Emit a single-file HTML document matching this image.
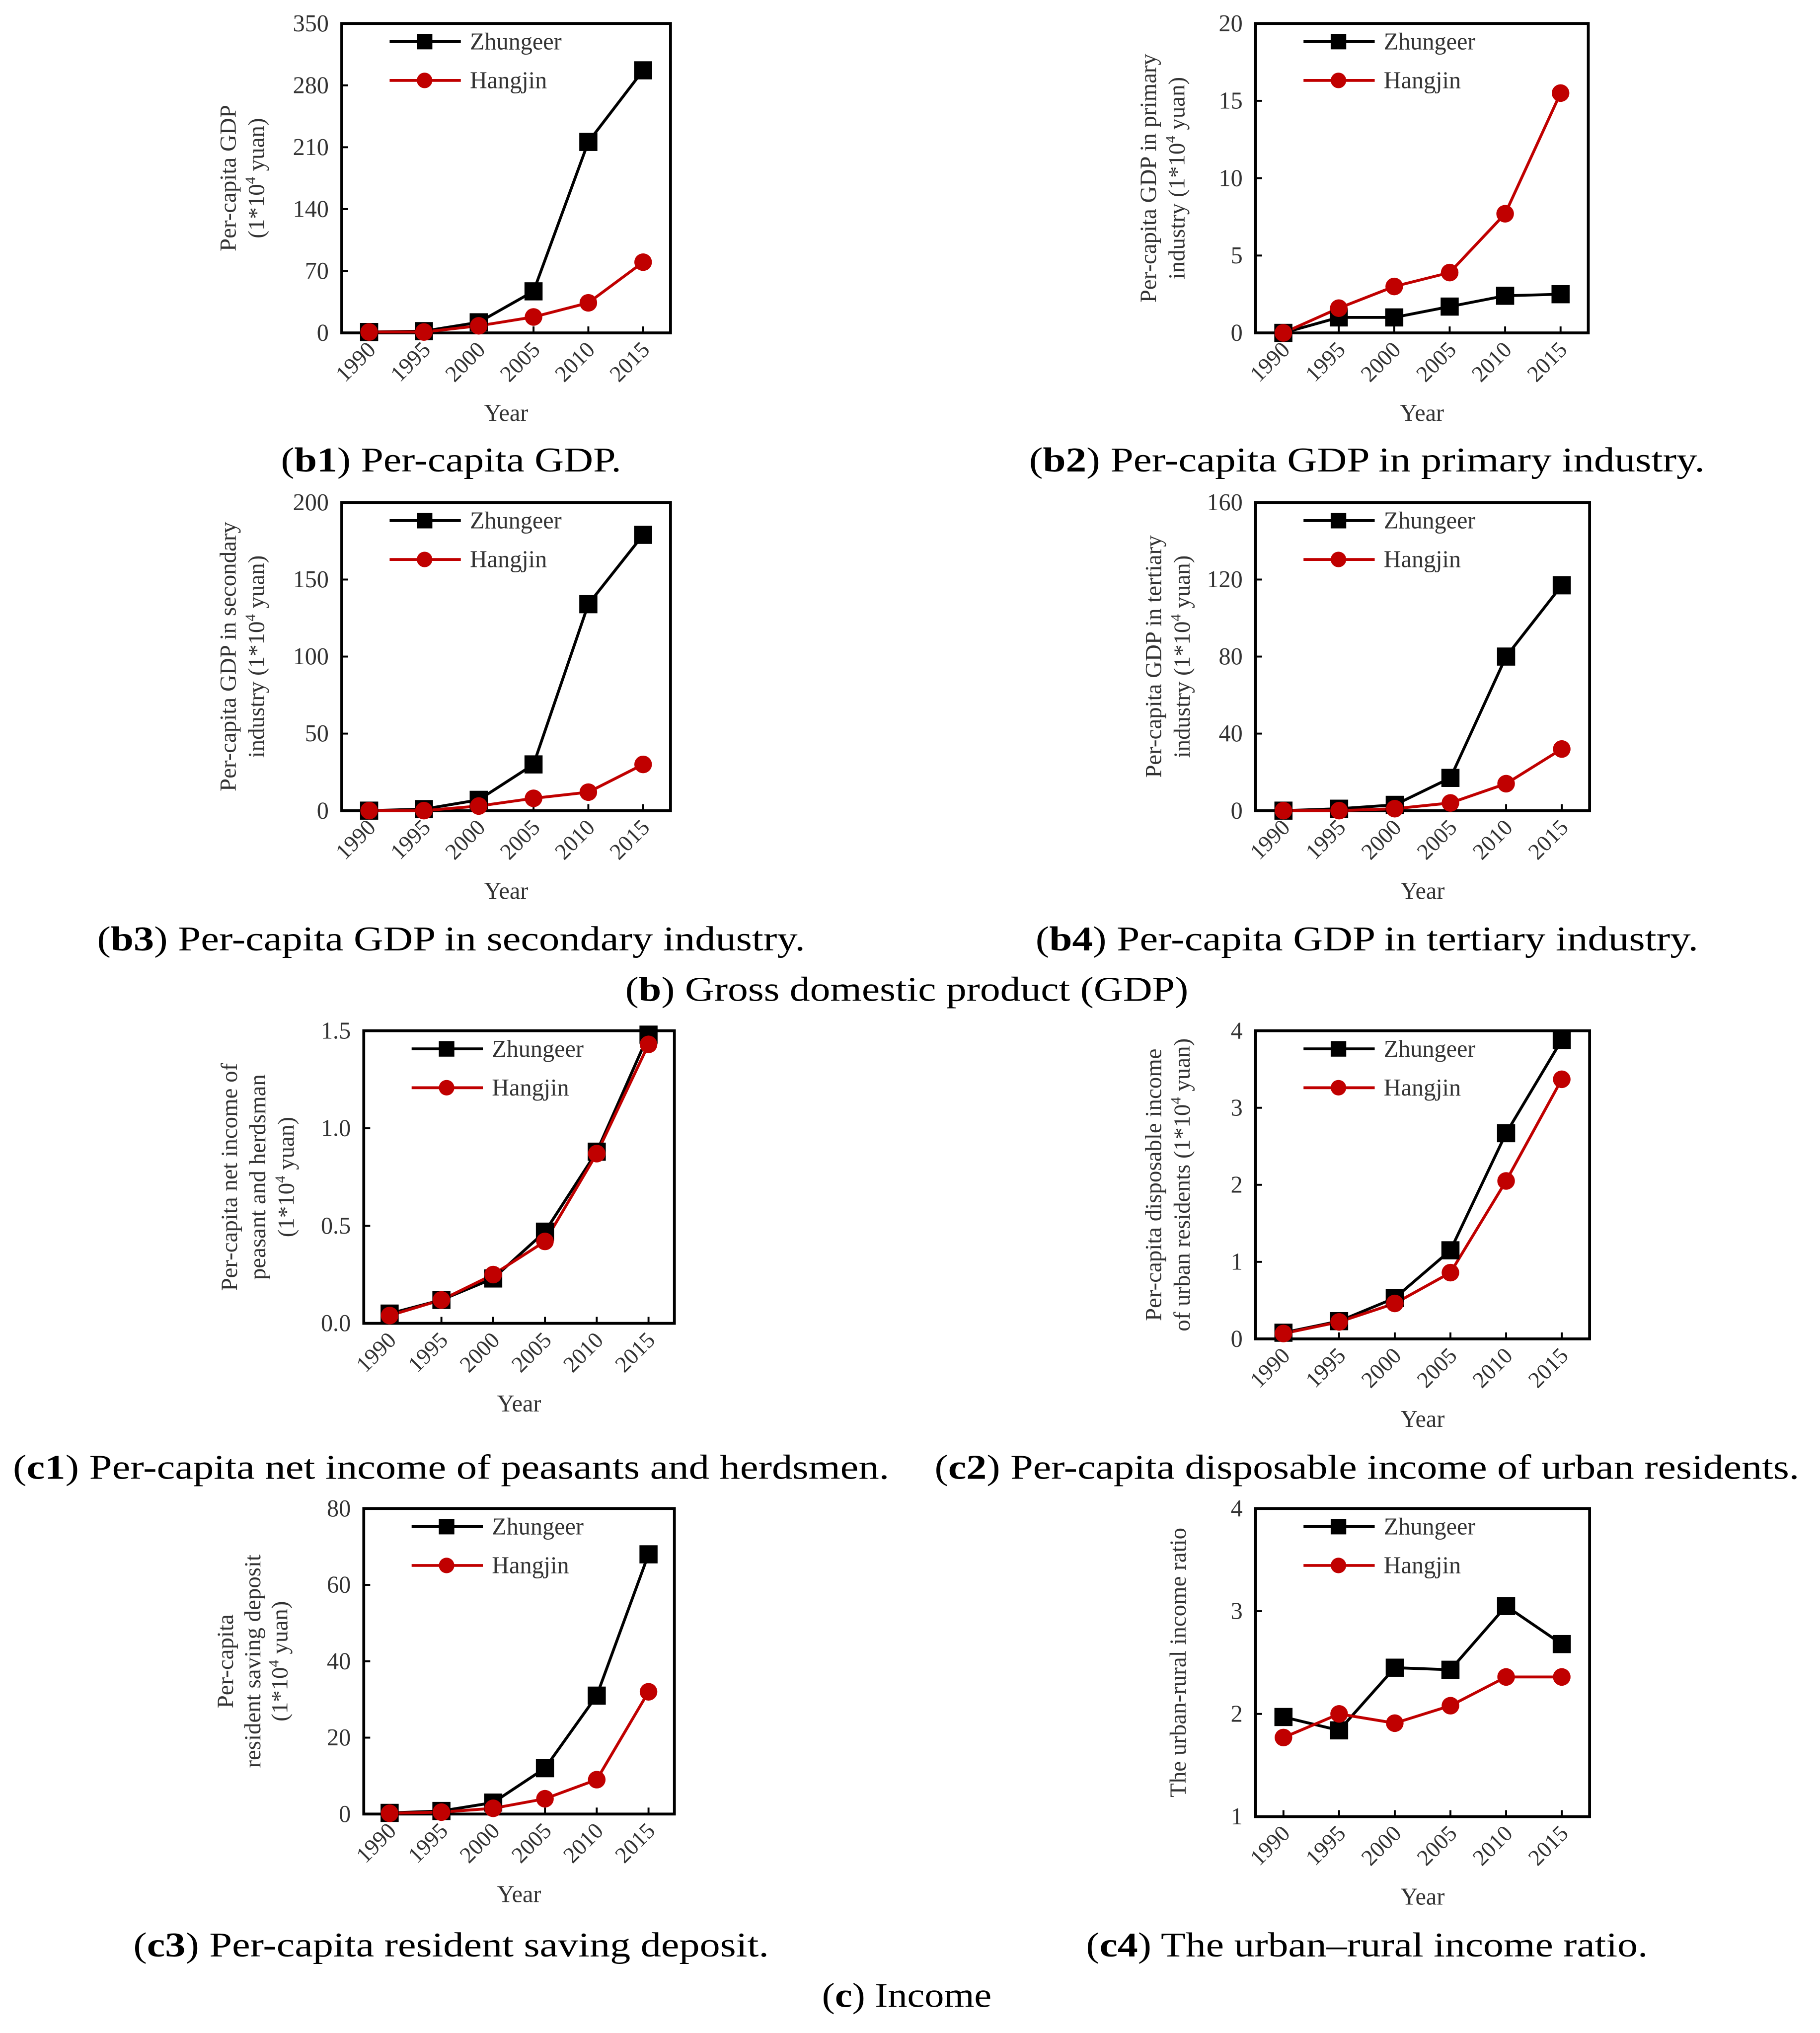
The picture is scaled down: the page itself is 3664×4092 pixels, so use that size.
<!DOCTYPE html>
<html><head><meta charset="utf-8"><style>
html,body{margin:0;padding:0;background:#fff;}
svg{display:block;}
text{font-family:"Liberation Serif",serif;}
</style></head><body>
<svg id="fig" width="3664" height="4092" viewBox="0 0 1406 1570" xmlns="http://www.w3.org/2000/svg"></svg>
<script>
const categories = ["1990","1995","2000","2005","2010","2015"];
const b1Zhungeer = [1,2,12,47,216,297];
const b1Hangjin = [1,1,8,18,34,80];
const b1Ticks = [0,70,140,210,280,350];
const b2Zhungeer = [0,1,1,1.7,2.4,2.5];
const b2Hangjin = [0,1.6,3,3.9,7.7,15.5];
const b2Ticks = [0,5,10,15,20];
const b3Zhungeer = [0,1,7,30,134,179];
const b3Hangjin = [0,0,3,8,12,30];
const b3Ticks = [0,50,100,150,200];
const b4Zhungeer = [0,1,3,17,80,117];
const b4Hangjin = [0,0,1,4,14,32];
const b4Ticks = [0,40,80,120,160];
const c1Zhungeer = [0.05,0.12,0.23,0.47,0.88,1.48];
const c1Hangjin = [0.04,0.12,0.25,0.42,0.87,1.43];
const c1Ticks = [0,0.5,1.0,1.5];
const c1TickLabels = ["0.0","0.5","1.0","1.5"];
const c2Zhungeer = [0.08,0.23,0.53,1.15,2.67,3.88];
const c2Hangjin = [0.07,0.22,0.46,0.86,2.05,3.37];
const c2Ticks = [0,1,2,3,4];
const c3Zhungeer = [0.3,0.8,3,12,31,68];
const c3Hangjin = [0.2,0.5,1.5,4,9,32];
const c3Ticks = [0,20,40,60,80];
const c4Zhungeer = [1.97,1.84,2.45,2.43,3.05,2.68];
const c4Hangjin = [1.77,2.0,1.91,2.08,2.36,2.36];
const c4Ticks = [1,2,3,4];

const NS="http://www.w3.org/2000/svg";
const svg=document.getElementById('fig');
function mk(tag,attrs,parent){const e=document.createElementNS(NS,tag);for(const k in attrs)e.setAttribute(k,attrs[k]);(parent||svg).appendChild(e);return e;}

function chart(id,L,T,R,B,ticks,tickLabels,zh,hj,ylines,ylx){
  const g=mk('g',{});
  
  
  const min=ticks[0],max=ticks[ticks.length-1];
  const y=v=>B-(v-min)/(max-min)*(B-T);
  const x=i=>L+(R-L)*(i+0.5)/categories.length;
  const box=mk('rect',{x:L,y:T,width:R-L,height:B-T,fill:'none',stroke:'#000','stroke-width':2.2},g);
  
  
  ticks.forEach((t,k)=>{
    mk('line',{x1:L,x2:L+5,y1:y(t),y2:y(t),stroke:'#000','stroke-width':1.5},g);
    const tl=mk('text',{x:L-10,y:y(t)+6,'text-anchor':'end','font-size':18.5,fill:'#333'},g);
    tl.textContent=tickLabels?tickLabels[k]:String(t);
    
    
  });
  categories.forEach((c,i)=>{
    mk('line',{x1:x(i),x2:x(i),y1:B,y2:B-5,stroke:'#000','stroke-width':1.5},g);
    const tl=mk('text',{x:x(i)+6,y:B+14,'text-anchor':'end','font-size':17.5,fill:'#333',transform:`rotate(-45 ${x(i)+6} ${B+14})`},g);
    tl.textContent=c;
    
    
  });
  const xt=mk('text',{x:(L+R)/2,y:B+68,'text-anchor':'middle','font-size':18.5,fill:'#333'},g);
  xt.textContent='Year';
  
  
  const cy=(T+B)/2;
  ylines.forEach((s,k)=>{
    const px=ylx[k];
    const t=mk('text',{x:px,y:cy,'text-anchor':'middle','font-size':18,fill:'#333',transform:`rotate(-90 ${px} ${cy})`},g);
    t.innerHTML=s;
    
    
  });
  const zp=zh.map((v,i)=>x(i)+','+y(v)).join(' ');
  const zl=mk('polyline',{points:zp,fill:'none',stroke:'#000','stroke-width':2.2},g);
  
  
  const hp=hj.map((v,i)=>x(i)+','+y(v)).join(' ');
  const hl=mk('polyline',{points:hp,fill:'none',stroke:'#c00000','stroke-width':2.2},g);
  
  
  zh.forEach((v,i)=>{
    const m=mk('rect',{x:x(i)-7,y:y(v)-7,width:14,height:14,fill:'#000'},g);
    
    
  });
  hj.forEach((v,i)=>{
    const m=mk('circle',{cx:x(i),cy:y(v),r:6.8,fill:'#c00000'},g);
    
    
  });
  const lx=L+37, ly1=T+14, ly2=T+44;
  const lg=mk('g',{},g);
  
  
  mk('line',{x1:lx,x2:lx+55,y1:ly1,y2:ly1,stroke:'#000','stroke-width':2.2},lg);
  mk('rect',{x:lx+21,y:ly1-6,width:12,height:12,fill:'#000'},lg);
  const t1=mk('text',{x:lx+62,y:ly1+6,'font-size':18.5,fill:'#333'},lg);
  t1.textContent='Zhungeer';
  
  
  mk('line',{x1:lx,x2:lx+55,y1:ly2,y2:ly2,stroke:'#c00000','stroke-width':2.2},lg);
  mk('circle',{cx:lx+27,cy:ly2,r:6,fill:'#c00000'},lg);
  const t2=mk('text',{x:lx+62,y:ly2+6,'font-size':18.5,fill:'#333'},lg);
  t2.textContent='Hangjin';
  
  
}
const SUP='<tspan font-size="11" dy="-7">4</tspan><tspan dy="7"> yuan)</tspan>';
const U='(1*10'+SUP;
chart('b1',264,18,518,257,b1Ticks,null,b1Zhungeer,b1Hangjin,['Per-capita GDP',U],[182,204]);
chart('b2',970,18,1227,257,b2Ticks,null,b2Zhungeer,b2Hangjin,['Per-capita GDP in primary','industry (1*10'+SUP],[893,915]);
chart('b3',264,388,518,626,b3Ticks,null,b3Zhungeer,b3Hangjin,['Per-capita GDP in secondary','industry (1*10'+SUP],[182,204]);
chart('b4',970,388,1228,626,b4Ticks,null,b4Zhungeer,b4Hangjin,['Per-capita GDP in tertiary','industry (1*10'+SUP],[897,919]);
chart('c1',281,796,521,1022,c1Ticks,c1TickLabels,c1Zhungeer,c1Hangjin,['Per-capita net income of','peasant and herdsman',U],[183,205,227]);
chart('c2',970,796,1228,1034,c2Ticks,null,c2Zhungeer,c2Hangjin,['Per-capita disposable income','of urban residents (1*10'+SUP],[897,919]);
chart('c3',281,1165,521,1401,c3Ticks,null,c3Zhungeer,c3Hangjin,['Per-capita','resident saving deposit',U],[180,201,222]);
chart('c4',970,1165,1228,1403,c4Ticks,null,c4Zhungeer,c4Hangjin,['The urban-rural income ratio'],[916]);

function cap(name,x1,x2,y,bold,rest){
  const t=mk('text',{x:(x1+x2)/2,y:y,'text-anchor':'middle','font-size':27,fill:'#000',textLength:x2-x1,lengthAdjust:'spacingAndGlyphs'});
  t.innerHTML='(<tspan font-weight="bold">'+bold+'</tspan>) '+rest;
  
  
}
cap('caption-b1',217,480,364,'b1','Per-capita GDP.');
cap('caption-b2',795,1317,364,'b2','Per-capita GDP in primary industry.');
cap('caption-b3',75,622,734,'b3','Per-capita GDP in secondary industry.');
cap('caption-b4',800,1312,734,'b4','Per-capita GDP in tertiary industry.');
cap('caption-b',483,918,773,'b','Gross domestic product (GDP)');
cap('caption-c1',10,687,1142,'c1','Per-capita net income of peasants and herdsmen.');
cap('caption-c2',722,1390,1142,'c2','Per-capita disposable income of urban residents.');
cap('caption-c3',103,594,1511,'c3','Per-capita resident saving deposit.');
cap('caption-c4',839,1273,1511,'c4','The urban–rural income ratio.');
cap('caption-c',635,766,1550,'c','Income');
</script>
</body></html>
